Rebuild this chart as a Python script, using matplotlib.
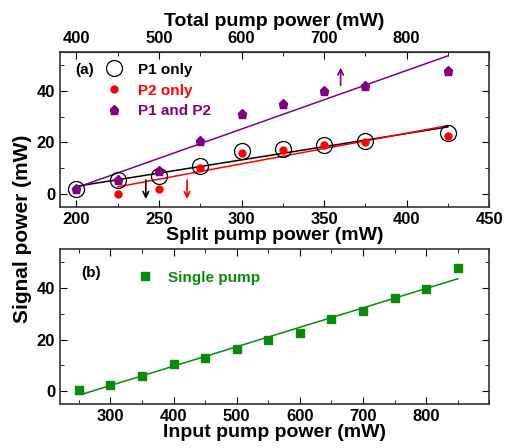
import numpy as np
import matplotlib.pyplot as plt
from matplotlib.ticker import MultipleLocator

plt.rcParams['font.family'] = ['Liberation Sans', 'DejaVu Sans']
plt.rcParams['font.weight'] = 'bold'

# panel (a): split pump power
split = [200, 225, 250, 275, 300, 325, 350, 375, 425]
p1_only = [2, 5.5, 7, 11, 16.5, 17.5, 19, 20.5, 23.5]
split_p2 = [225, 250, 275, 300, 325, 350, 375, 425]
p2_only = [0, 2, 10, 16, 17, 19, 20, 22.5]
p1_p2 = [2, 5.5, 9, 20.5, 31, 35, 40, 42, 47.5]

# fitted lines (end points)
fit_p1_x = [200, 425]
fit_p1_y = [3, 26]
fit_p2_x = [225, 425]
fit_p2_y = [2.8, 26.5]
fit_both_x = [200, 425]
fit_both_y = [2.5, 53.5]

# panel (b): single pump
inp = [250, 300, 350, 400, 450, 500, 550, 600, 650, 700, 750, 800, 850]
single = [0.5, 2.5, 6, 10.5, 13, 16.5, 20, 22.5, 28, 31, 36, 39.5, 47.5]
fit_single_x = [255, 850]
fit_single_y = [-1.2, 43.5]

purple = '#800080'
green = '#0a8a0a'

fig = plt.figure(figsize=(5.08, 4.48), dpi=100)
ax1 = fig.add_axes([0.118, 0.538, 0.845, 0.346])
ax2 = fig.add_axes([0.118, 0.098, 0.845, 0.346])

ax1.plot(fit_p1_x, fit_p1_y, color='black', lw=1.1)
ax1.plot(fit_p2_x, fit_p2_y, color='red', lw=1.1)
ax1.plot(fit_both_x, fit_both_y, color=purple, lw=1.1)
ax1.plot(split, p1_only, 'o', mfc='none', mec='black', ms=11.5, mew=0.9, label='P1 only')
ax1.plot(split_p2, p2_only, 'o', color='red', ms=5, label='P2 only')
ax1.plot(split, p1_p2, 'p', color=purple, ms=6.5, label='P1 and P2')

ax1.annotate('', xy=(242, -3), xytext=(242, 6.5),
             arrowprops=dict(arrowstyle='->', color='black', lw=1.2))
ax1.annotate('', xy=(267, -3), xytext=(267, 6.5),
             arrowprops=dict(arrowstyle='->', color='red', lw=1.2))
ax1.annotate('', xy=(360, 50), xytext=(360, 41),
             arrowprops=dict(arrowstyle='->', color=purple, lw=1.2))

ax1.set_xlim(190, 450)
ax1.set_ylim(-5, 55)
ax1.xaxis.set_major_locator(MultipleLocator(50))
ax1.xaxis.set_minor_locator(MultipleLocator(25))
ax1.set_xlabel('Split pump power (mW)', fontsize=14, fontweight='bold', labelpad=0)
ax1.text(0.035, 0.86, '(a)', transform=ax1.transAxes, fontsize=11, fontweight='bold')
leg = ax1.legend(loc='upper left', bbox_to_anchor=(0.065, 1.0), frameon=False,
                 fontsize=11, handletextpad=0.6, labelspacing=0.45, borderaxespad=0.3)
for t, c in zip(leg.get_texts(), ['black', 'red', purple]):
    t.set_color(c)

top = ax1.secondary_xaxis('top', functions=(lambda x: 2 * x, lambda x: x / 2))
top.set_xticks([400, 500, 600, 700, 800])
top.tick_params(direction='in', length=0, labelsize=12, pad=4)
top.set_xlabel('Total pump power (mW)', fontsize=14, fontweight='bold', labelpad=4)

ax2.plot(fit_single_x, fit_single_y, color=green, lw=1.1)
ax2.plot(inp, single, 's', color=green, ms=5.5, label='Single pump')
ax2.set_xlim(220, 900)
ax2.set_ylim(-5, 55)
ax2.set_xticks([300, 400, 500, 600, 700, 800])
ax2.xaxis.set_minor_locator(MultipleLocator(50))
ax2.set_xlabel('Input pump power (mW)', fontsize=14, fontweight='bold', labelpad=0)
ax2.text(0.05, 0.82, '(b)', transform=ax2.transAxes, fontsize=11, fontweight='bold')
leg2 = ax2.legend(loc='upper left', bbox_to_anchor=(0.13, 0.95), frameon=False,
                  fontsize=11, handletextpad=0.5)
leg2.get_texts()[0].set_color(green)

for ax in (ax1, ax2):
    ax.yaxis.set_major_locator(MultipleLocator(20))
    ax.yaxis.set_minor_locator(MultipleLocator(10))
    ax.tick_params(which='both', direction='in', top=True, right=True, labelsize=12)
    ax.tick_params(which='major', length=5)
    ax.tick_params(which='minor', length=3)
    for s in ax.spines.values():
        s.set_linewidth(1.2)
        s.set_color('#333333')

fig.text(0.045, 0.49, 'Signal power (mW)', rotation=90, ha='center', va='center',
         fontsize=15, fontweight='bold')

fig.savefig('out.png', dpi=100)
